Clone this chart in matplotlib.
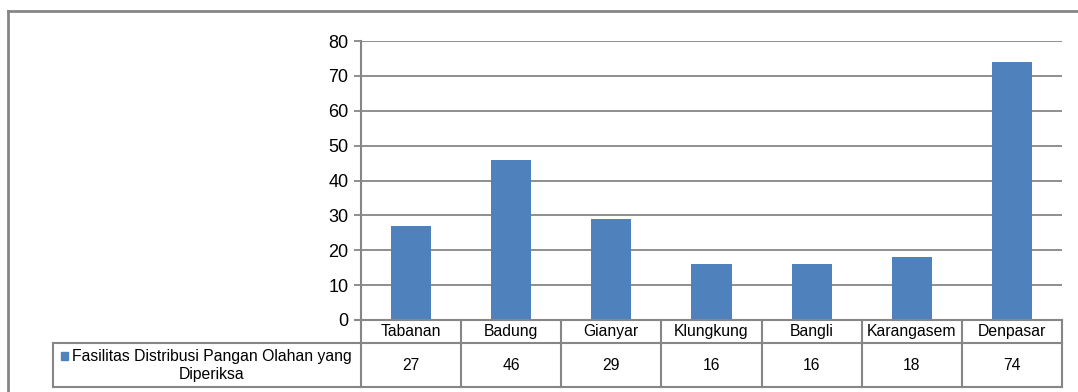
import numpy as np
import matplotlib.pyplot as plt
from matplotlib.transforms import blended_transform_factory
from matplotlib.patches import Rectangle

plt.rcParams['font.family'] = ['Liberation Sans', 'DejaVu Sans']

categories = ['Tabanan', 'Badung', 'Gianyar', 'Klungkung', 'Bangli', 'Karangasem', 'Denpasar']
values = [27, 46, 29, 16, 16, 18, 74]
series_name = 'Fasilitas Distribusi Pangan Olahan yang\nDiperiksa'
yticks = [0, 10, 20, 30, 40, 50, 60, 70, 80]

bar_color = '#4F81BD'
line_color = '#868686'

W, H = 1078, 392
fig = plt.figure(figsize=(W / 100, H / 100), dpi=100)


def fx(px):
    return px / W


def fy(py):
    return 1 - py / H


# outer chart border (left and top only visible)
fig.add_artist(plt.Line2D([fx(8), fx(8)], [fy(11), 0], transform=fig.transFigure,
                          color=line_color, lw=2))
fig.add_artist(plt.Line2D([fx(8), 1], [fy(11), fy(11)], transform=fig.transFigure,
                          color=line_color, lw=2))

ax = fig.add_axes([fx(361), fy(320), fx(1062) - fx(361), fy(41) - fy(320)])
x = np.arange(len(categories))
ax.bar(x, values, width=0.4, color=bar_color, zorder=3)
ax.set_xlim(-0.5, len(categories) - 0.5)
ax.set_ylim(0, 80)
ax.set_yticks(yticks)
ax.tick_params(axis='y', labelsize=13, length=5, width=1.3, color=line_color, pad=4)
ax.tick_params(axis='x', bottom=False, labelbottom=False)
ax.yaxis.grid(True, color=line_color, lw=1.3, zorder=0)
for s in ['top', 'right', 'bottom']:
    ax.spines[s].set_visible(False)
ax.spines['left'].set_color(line_color)
ax.spines['left'].set_linewidth(1.5)
ax.set_zorder(1)

# data table below the plot
tr = blended_transform_factory(ax.transData, fig.transFigure)
row1_top, row1_bot, row2_bot = 320, 343, 387
label_left = 53
lkw = dict(color=line_color, lw=1.5, clip_on=False)

# horizontal lines
fig.add_artist(plt.Line2D([fx(356), fx(1062)], [fy(row1_top)] * 2, transform=fig.transFigure, **lkw))
for yy in [row1_bot, row2_bot]:
    fig.add_artist(plt.Line2D([fx(label_left), fx(1062)], [fy(yy)] * 2,
                              transform=fig.transFigure, **lkw))
# vertical lines
fig.add_artist(plt.Line2D([fx(label_left)] * 2, [fy(row1_bot), fy(row2_bot)],
                          transform=fig.transFigure, **lkw))
for i in range(len(categories) + 1):
    fig.add_artist(plt.Line2D([i - 0.5] * 2, [fy(row1_top), fy(row2_bot)], transform=tr, **lkw))

for i, (c, v) in enumerate(zip(categories, values)):
    fig.text(i, fy((row1_top + row1_bot) / 2), c, transform=tr, ha='center', va='center',
             fontsize=11.3, color='black')
    fig.text(i, fy((row1_bot + row2_bot) / 2), str(v), transform=tr, ha='center', va='center',
             fontsize=11.3, color='black')

# series label with legend key
fig.add_artist(Rectangle((fx(61), fy(360)), fx(7), fy(352) - fy(360), transform=fig.transFigure,
                         color=bar_color))
fig.text(fx(212), fy(366), series_name, ha='center', va='center',
         multialignment='center', fontsize=11.3, color='black', linespacing=1.25)

fig.savefig('out.png', dpi=100)
